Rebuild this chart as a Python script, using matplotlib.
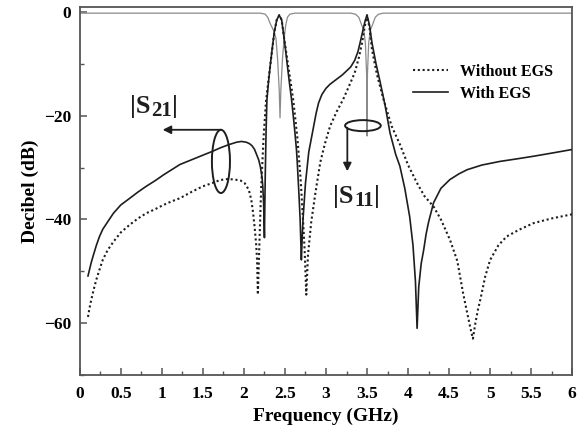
import matplotlib
matplotlib.use("Agg")
import matplotlib.pyplot as plt
from matplotlib.patches import Ellipse
from matplotlib.ticker import MultipleLocator

plt.rcParams['font.family'] = ['Liberation Serif', 'DejaVu Serif']
plt.rcParams['font.weight'] = 'bold'

# |S21| with EGS (solid)
with_x = [0.10, 0.12, 0.14, 0.16, 0.20, 0.24, 0.28, 0.33, 0.41, 0.50, 0.61, 0.71, 0.81, 0.92, 1.02,
          1.12, 1.22, 1.36, 1.50, 1.61, 1.71, 1.81, 1.91, 1.97, 2.03, 2.07, 2.10, 2.13, 2.15, 2.18,
          2.20, 2.22, 2.23, 2.24, 2.25, 2.255, 2.26, 2.27, 2.28, 2.30, 2.32, 2.345, 2.37, 2.40, 2.43,
          2.46, 2.48, 2.505, 2.53, 2.555, 2.58, 2.60, 2.62, 2.64, 2.65, 2.67, 2.685, 2.70, 2.71, 2.72,
          2.75, 2.79, 2.85, 2.88, 2.91, 2.95, 3.00, 3.05, 3.10, 3.20, 3.30, 3.35, 3.39, 3.42, 3.46,
          3.48, 3.50, 3.53, 3.56, 3.61, 3.66, 3.72, 3.78, 3.85, 3.90, 3.96, 4.02, 4.06, 4.09, 4.11,
          4.13, 4.16, 4.19, 4.22, 4.25, 4.31, 4.40, 4.51, 4.62, 4.72, 4.90, 5.12, 5.33, 5.53, 5.75,
          6.00]
with_y = [-50.9, -49.6, -48.3, -47.2, -45.1, -43.3, -41.9, -40.7, -38.8, -37.2, -35.9, -34.7, -33.6, -32.5, -31.4,
          -30.4, -29.4, -28.5, -27.6, -26.9, -26.2, -25.6, -25.1, -24.95, -25.1, -25.4, -25.8, -26.5, -27.3, -28.5,
          -29.8, -31.8, -33.6, -37.0, -43.5, -37.0, -31.5, -23.0, -17.0, -13.4, -10.4, -7.0, -3.9, -1.5, -0.6,
          -1.5, -3.9, -7.0, -10.4, -13.7, -16.8, -19.8, -23.0, -26.5, -29.0, -35.0, -40.0, -47.8, -43.5, -40.0,
          -33.0, -27.0, -22.0, -19.5, -17.5, -15.9, -14.7, -13.9, -13.3, -12.1, -10.6, -9.3, -7.6, -5.6, -2.8,
          -1.5, -0.6, -2.5, -5.9, -10.0, -13.5, -18.0, -23.3, -27.5, -29.7, -34.0, -39.5, -45.0, -52.0, -61.0,
          -53.0, -48.5, -45.9, -42.8, -40.5, -36.8, -34.0, -32.3, -31.2, -30.4, -29.5, -28.8, -28.3, -27.8, -27.2,
          -26.5]

# |S21| without EGS (dotted)
wo_x = [0.10, 0.12, 0.14, 0.17, 0.20, 0.24, 0.28, 0.34, 0.41, 0.50, 0.61, 0.71, 0.81, 0.92, 1.02,
        1.12, 1.22, 1.36, 1.50, 1.61, 1.71, 1.80, 1.89, 1.96, 2.01, 2.06, 2.09, 2.11, 2.13, 2.15,
        2.16, 2.17, 2.19, 2.21, 2.24, 2.27, 2.32, 2.37, 2.40, 2.43, 2.46, 2.48, 2.51, 2.54, 2.57,
        2.60, 2.65, 2.69, 2.72, 2.74, 2.76, 2.78, 2.82, 2.87, 2.93, 2.99, 3.05, 3.13, 3.21, 3.28,
        3.35, 3.40, 3.44, 3.47, 3.50, 3.53, 3.56, 3.62, 3.70, 3.80, 3.90, 4.00, 4.11, 4.20, 4.31,
        4.40, 4.51, 4.60, 4.67, 4.72, 4.76, 4.79, 4.82, 4.85, 4.88, 4.94, 5.00, 5.10, 5.20, 5.35,
        5.53, 5.75, 6.00]
wo_y = [-58.8, -57.0, -55.5, -53.5, -51.7, -49.7, -47.8, -45.9, -44.3, -42.5, -41.0, -39.8, -38.8, -38.0, -37.2,
        -36.5, -35.9, -34.7, -33.6, -33.0, -32.4, -32.2, -32.3, -32.5, -33.0, -34.3, -36.2, -38.5, -41.4, -45.0,
        -47.8, -54.5, -44.0, -34.0, -24.0, -17.0, -10.4, -3.9, -1.5, -0.6, -1.5, -3.9, -7.2, -10.4, -13.6,
        -16.8, -24.0, -32.0, -40.0, -46.0, -54.5, -47.0, -40.5, -35.0, -29.0, -25.2, -22.0, -19.2, -16.8, -14.3,
        -11.7, -8.8, -5.9, -3.0, -0.6, -3.0, -7.2, -12.0, -16.8, -22.0, -25.5, -29.5, -33.0, -35.5, -37.5,
        -40.0, -43.9, -48.0, -54.2, -58.0, -61.0, -63.0, -60.0, -57.5, -55.5, -51.0, -47.8, -45.0, -43.3, -42.0,
        -40.7, -39.8, -39.0]

# |S11| (thin gray)
s11_x = [0.00, 2.20, 2.26, 2.29, 2.32, 2.36, 2.39, 2.41, 2.43, 2.44, 2.45, 2.47, 2.49, 2.51, 2.53,
         2.56, 2.62, 3.30, 3.36, 3.40, 3.43, 3.46, 3.48, 3.495, 3.50, 3.505, 3.52, 3.54, 3.57, 3.60,
         3.64, 3.70, 6.00]
s11_y = [-0.2, -0.2, -0.4, -1.0, -2.2, -3.5, -5.0, -9.0, -15.0, -20.4, -15.0, -9.0, -5.0, -2.5, -1.0,
         -0.4, -0.2, -0.2, -0.4, -1.0, -2.3, -3.5, -6.0, -12.0, -23.9, -12.0, -6.0, -3.5, -2.3, -1.0,
         -0.4, -0.2, -0.2]

x_ticks = [0, 0.5, 1, 1.5, 2, 2.5, 3, 3.5, 4, 4.5, 5, 5.5, 6]
x_tick_labels = ['0', '0.5', '1', '1.5', '2', '2.5', '3', '3.5', '4', '4.5', '5', '5.5', '6']
y_ticks = [0, -20, -40, -60]
y_tick_labels = ['0', '\u221220', '\u221240', '\u221260']

assert len(with_x) == len(with_y) and len(wo_x) == len(wo_y) and len(s11_x) == len(s11_y)

dark = '#1e1e1e'
fig = plt.figure(figsize=(5.78, 4.33), dpi=100)
ax = fig.add_axes([0.138, 0.134, 0.852, 0.850])

ax.plot(s11_x, s11_y, color='#8a8a8a', lw=0.9, zorder=2)
ax.plot(wo_x, wo_y, color=dark, lw=1.5, linestyle=(0, (1.0, 1.3)), label='Without EGS', zorder=3)
ax.plot(with_x, with_y, color=dark, lw=1.2, label='With EGS', zorder=3)

ax.set_xlim(0, 6)
ax.set_ylim(-70, 1)
ax.set_xticks(x_ticks)
ax.set_xticklabels(x_tick_labels)
ax.set_yticks(y_ticks)
ax.set_yticklabels(y_tick_labels)
ax.xaxis.set_minor_locator(MultipleLocator(0.25))
ax.yaxis.set_minor_locator(MultipleLocator(10))
ax.tick_params(axis='both', which='major', direction='in', length=5, width=1.1,
               color='#555555', labelsize=12.5)
ax.tick_params(axis='x', which='major', pad=8)
ax.tick_params(axis='y', which='major', pad=6)
ax.tick_params(axis='both', which='minor', direction='in', length=3, width=1.0, color='#555555')
for lab in ax.get_xticklabels() + ax.get_yticklabels():
    lab.set_fontweight('bold')
for sp in ax.spines.values():
    sp.set_color('#555555')
    sp.set_linewidth(1.3)

ax.set_xlabel('Frequency (GHz)', fontsize=14, fontweight='bold', labelpad=4)
ax.set_ylabel('Decibel (dB)', fontsize=14, fontweight='bold', labelpad=4)

leg = ax.legend(loc='upper left', bbox_to_anchor=(0.677, 0.845), frameon=False,
                fontsize=11.5, handlelength=2.2, handletextpad=0.75, labelspacing=0.35,
                borderpad=0, borderaxespad=0)
for t in leg.get_texts():
    t.set_fontweight('bold')


def s_label(x, y, sub):
    t1 = ax.text(x, y, '|S', fontsize=19, fontweight='bold', ha='left', va='baseline',
                 color=dark, zorder=5)
    t2 = ax.annotate(sub, xy=(1, 0), xycoords=t1, xytext=(0.5, -2.5), textcoords='offset points',
                     fontsize=15, fontweight='bold', ha='left', va='bottom', color=dark, zorder=5)
    ax.annotate('|', xy=(1, 0), xycoords=(t2, t1), xytext=(0.5, 0), textcoords='offset points',
                fontsize=19, fontweight='bold', ha='left', va='bottom', color=dark, zorder=5)


# |S21| annotation
ax.add_patch(Ellipse((1.72, -28.8), 0.22, 12.2, fill=False, edgecolor=dark, lw=1.4, zorder=4))
ax.annotate('', xy=(1.01, -22.7), xytext=(1.72, -22.7),
            arrowprops=dict(arrowstyle='-|>', lw=1.3, color=dark, mutation_scale=12,
                            shrinkA=0, shrinkB=0))
s_label(0.61, -19.4, '21')

# |S11| annotation
ax.add_patch(Ellipse((3.45, -21.9), 0.435, 2.13, fill=False, edgecolor=dark, lw=1.4, zorder=4))
ax.annotate('', xy=(3.26, -30.7), xytext=(3.26, -22.3),
            arrowprops=dict(arrowstyle='-|>', lw=1.3, color=dark, mutation_scale=12,
                            shrinkA=0, shrinkB=0))
s_label(3.085, -36.8, '11')

fig.savefig('out.png', dpi=100)
